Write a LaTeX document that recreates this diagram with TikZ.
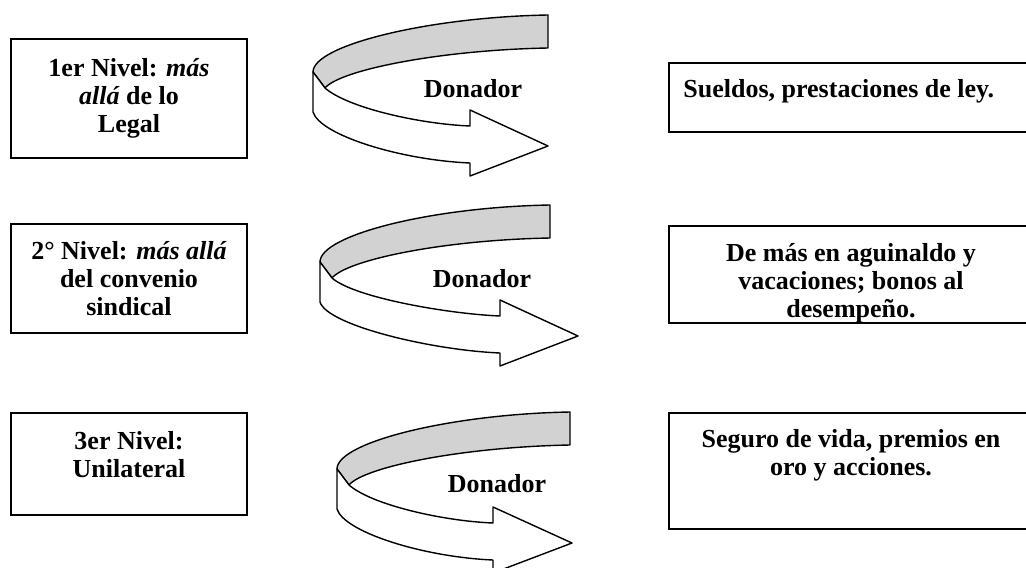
\documentclass[tikz,border=0pt]{standalone}
\usepackage{fontspec}
\setmainfont{Liberation Serif}
\usetikzlibrary{positioning}

\tikzset{
  caja/.style={draw, line width=1pt, anchor=north west, inner sep=0pt},
  texto/.style={font=\fontsize{13}{14}\selectfont\bfseries, align=center, inner sep=0pt},
  cinta/.style={draw, line width=0.7pt, line join=round},
}

% cinta curva con flecha: #1 borde izq, #2 fin de la banda, #3 base de la punta,
% #4 punta (x), #5 arriba de la banda, #6 punta (y)
\newcommand\giro[6]{%
  \draw[cinta, fill=gray!35] (#2,#5) .. controls ({#2-118},{#5+2}) and (#1,{#5+30}) .. (#1,{#5+57})
    -- ({#1+12},{#5+73}) .. controls ({#1+27},{#5+55}) and ({#2-108},{#5+35}) .. (#2,{#5+33}) -- cycle;
  \draw[cinta, fill=white] (#1,{#5+57}) -- (#1,{#5+97})
    .. controls ({#1+7},{#5+120}) and ({#3-70},{#6+14}) .. (#3,{#6+17})
    -- (#3,{#6+30}) -- (#4,#6) -- (#3,{#6-36}) -- (#3,{#6-20})
    .. controls ({#3-50},{#6-22}) and ({#1+35},{#5+93}) .. ({#1+12},{#5+73}) -- cycle;}

\begin{document}
\begin{tikzpicture}[x=0.5pt, y=-0.5pt]
  \useasboundingbox (0,0) rectangle (1026,567);

  % niveles
  \node[caja, minimum width=118pt, minimum height=59.5pt] (n1) at (10,38) {};
  \node[caja, minimum width=118pt, minimum height=54.5pt] (n2) at (10,223) {};
  \node[caja, minimum width=118pt, minimum height=51pt] (n3) at (10,412) {};
  \node[texto] (t1) at (n1.center) {1er Nivel: \textit{más}\\ \textit{allá} de lo\\ Legal};
  \node[texto, below=8.8pt of n2.north] (t2) {2° Nivel: \textit{más allá}\\ del convenio\\ sindical};
  \node[texto, below=9.3pt of n3.north] (t3) {3er Nivel:\\ Unilateral};

  % flechas
  \giro{313}{548}{470}{548}{15}{146}
  \giro{320}{550}{500}{578}{205}{336}
  \giro{337}{570}{493}{572}{412}{543}
  \node[texto] (d1) at (473,89) {Donador};
  \node[texto] (d2) at (482,279) {Donador};
  \node[texto] (d3) at (497,484) {Donador};

  % prestaciones
  \node[caja, minimum width=182pt, minimum height=34.5pt] (p1) at (668,62) {};
  \node[caja, minimum width=182pt, minimum height=48.5pt] (p2) at (668,225) {};
  \node[caja, minimum width=182pt, minimum height=58pt] (p3) at (668,412) {};
  \node[texto, anchor=north west] (s1) at ([xshift=7.5pt, yshift=-8.3pt]p1.north west) {Sueldos, prestaciones de ley.};
  \node[texto, below=8.8pt of p2.north] (s2) {De más en aguinaldo y\\ vacaciones; bonos al\\ desempeño.};
  \node[texto, below=8.3pt of p3.north] (s3) {Seguro de vida, premios en\\ oro y acciones.};
\end{tikzpicture}
\end{document}
